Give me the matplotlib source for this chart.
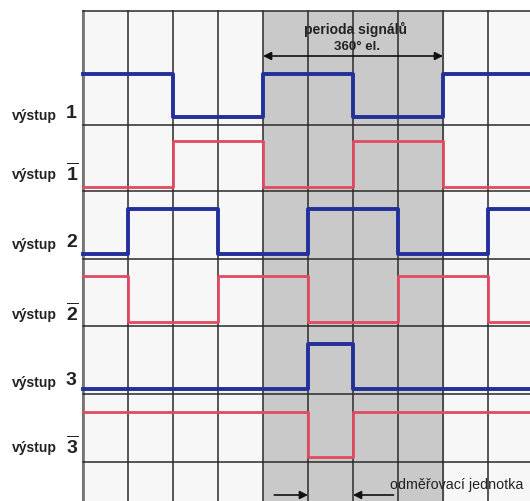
import numpy as np
import matplotlib.pyplot as plt

plt.rcParams['font.family'] = ['Liberation Sans', 'DejaVu Sans']
plt.rcParams['mathtext.fontset'] = 'custom'
plt.rcParams['mathtext.bf'] = 'Liberation Sans:bold'
plt.rcParams['mathtext.rm'] = 'Liberation Sans:bold'

# ---------------- Datos ----------------
# estado de cada salida por columna (1 = alto, 0 = bajo), 10 columnas
labels = ['1', '1', '2', '2', '3', '3']
negated = [False, True, False, True, False, True]
out1 = [1, 1, 0, 0, 1, 1, 0, 0, 1, 1]
out1n = [0, 0, 1, 1, 0, 0, 1, 1, 0, 0]
out2 = [0, 1, 1, 0, 0, 1, 1, 0, 0, 1]
out2n = [1, 0, 0, 1, 1, 0, 0, 1, 1, 0]
out3 = [0, 0, 0, 0, 0, 1, 0, 0, 0, 0]
out3n = [1, 1, 1, 1, 1, 0, 1, 1, 1, 1]
signals = [out1, out1n, out2, out2n, out3, out3n]

period_cols = (4, 8)      # periodo de señal 360° el.
unit_cols = (5, 6)        # unidad de medición

# ---------------- Layout ----------------
W, H = 530, 502
COL0, COLW = 83, 45
row_lines = [12, 126, 192, 260, 327, 395, 463]
levels = [(75, 118), (142, 188), (210, 255), (277, 323), (345, 390), (413, 458)]
label_y = [116, 175, 245, 315, 383, 448]
BLUE = '#23309a'
RED = '#e24a62'
GRID = '#2a2a2a'

fig = plt.figure(figsize=(W / 100, H / 100), dpi=100)
ax = fig.add_axes([0, 0, 1, 1])
ax.set_xlim(-COL0 / COLW, (W - COL0) / COLW)
ax.set_ylim(H, 0)
ax.axis('off')

ncols = len(out1)
xr = ax.get_xlim()[1]

# fondo de celdas y zona sombreada
ax.axvspan(0, xr, ymin=0, ymax=1 - row_lines[0] / H, color='#f7f7f7', zorder=0)
ax.axvspan(period_cols[0], period_cols[1], ymin=0, ymax=1 - row_lines[0] / H,
           color='#c9c9c9', zorder=1)

# rejilla
for c in range(ncols + 1):
    ax.plot([c, c], [row_lines[0], H], color=GRID, lw=1.1, zorder=2)
ax.plot([0, 0], [row_lines[0], H], color='#777777', lw=2, zorder=2)
for y in row_lines:
    ax.plot([0, xr], [y, y], color=GRID, lw=1.1, zorder=2)

# señales
for i, sig in enumerate(signals):
    hi, lo = levels[i]
    ys = [hi if s else lo for s in sig]
    ys = ys + [ys[-1]]
    color = RED if negated[i] else BLUE
    lw = 2.0 if negated[i] else 2.8
    ax.step(np.arange(ncols + 1), ys, where='post', color=color, lw=lw, zorder=3)

# etiquetas
for i, lab in enumerate(labels):
    ax.text(-COL0 / COLW + 12 / COLW, label_y[i], 'výstup', fontsize=10,
            fontweight='bold', color='#222222', ha='left', va='center')
    digit = r'$\overline{\mathbf{%s}}$' % lab if negated[i] else lab
    ax.text(-COL0 / COLW + 66 / COLW, label_y[i] - 2, digit, fontsize=14,
            fontweight='bold', color='#222222', ha='left', va='center')

# periodo de señal
ax.text(sum(period_cols) / 2 + 0.05, 29, 'perioda signálů', fontsize=10,
        fontweight='bold', color='#222222', ha='center', va='center', zorder=4)
ax.text(sum(period_cols) / 2 + 0.1, 47, '360° el.', fontsize=9.5,
        fontweight='bold', color='#222222', ha='center', va='center', zorder=4)
ax.annotate('', xy=(period_cols[0], 57), xytext=(period_cols[1], 57),
            arrowprops=dict(arrowstyle='<|-|>', color='#111111', lw=1.2,
                            mutation_scale=12, shrinkA=0, shrinkB=0), zorder=4)

# unidad de medición
ax.annotate('', xy=(unit_cols[0], 496), xytext=(unit_cols[0] - 0.75, 496),
            arrowprops=dict(arrowstyle='-|>', color='#111111', lw=1.2,
                            mutation_scale=12, shrinkA=0, shrinkB=0), zorder=4)
ax.annotate('', xy=(unit_cols[1], 496), xytext=(unit_cols[1] + 0.9, 496),
            arrowprops=dict(arrowstyle='-|>', color='#111111', lw=1.2,
                            mutation_scale=12, shrinkA=0, shrinkB=0), zorder=4)
ax.text(unit_cols[1] + 0.82, 485, 'odměřovací jednotka', fontsize=10.3,
        color='#222222', ha='left', va='center', zorder=4)

fig.savefig('out.png', dpi=100)
